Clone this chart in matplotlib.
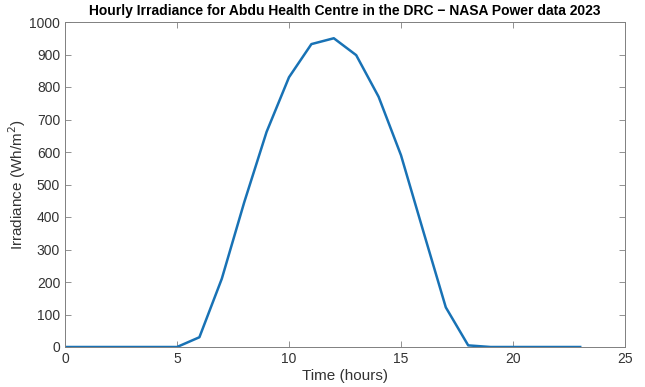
import matplotlib.pyplot as plt

hours = list(range(24))
irradiance = [0, 0, 0, 0, 0, 0, 30, 210, 445, 662, 830, 932, 950, 898, 770, 590, 355, 122, 5, 0, 0, 0, 0, 0]

plt.rcParams['font.family'] = ['Liberation Sans', 'DejaVu Sans']

fig = plt.figure(figsize=(6.45, 3.87), dpi=100)
ax = fig.add_axes([65/645, 1 - 347/387, 560/645, 325/387])

ax.plot(hours, irradiance, color='#1872B5', linewidth=1.8)
ax.set(xlim=(0, 25), ylim=(0, 1000))
ax.set_xticks([0, 5, 10, 15, 20, 25])
ax.set_yticks(range(0, 1001, 100))

for s in ax.spines.values():
    s.set_color('#808080')
    s.set_linewidth(0.7)
ax.tick_params(direction='in', top=True, right=True, length=4, width=0.6,
               color='#808080', labelcolor='#333333', labelsize=10)

ax.set_xlabel("Time (hours)", fontsize=11, color='#333333', labelpad=2)
ax.set_ylabel("Irradiance (Wh/m$^2$)", fontsize=11, color='#333333', labelpad=1)
ax.set_title("Hourly Irradiance for Abdu Health Centre in the DRC \u2212 NASA Power data 2023",
             fontsize=10, fontweight='bold', pad=5)

fig.savefig("out.png", dpi=100)
